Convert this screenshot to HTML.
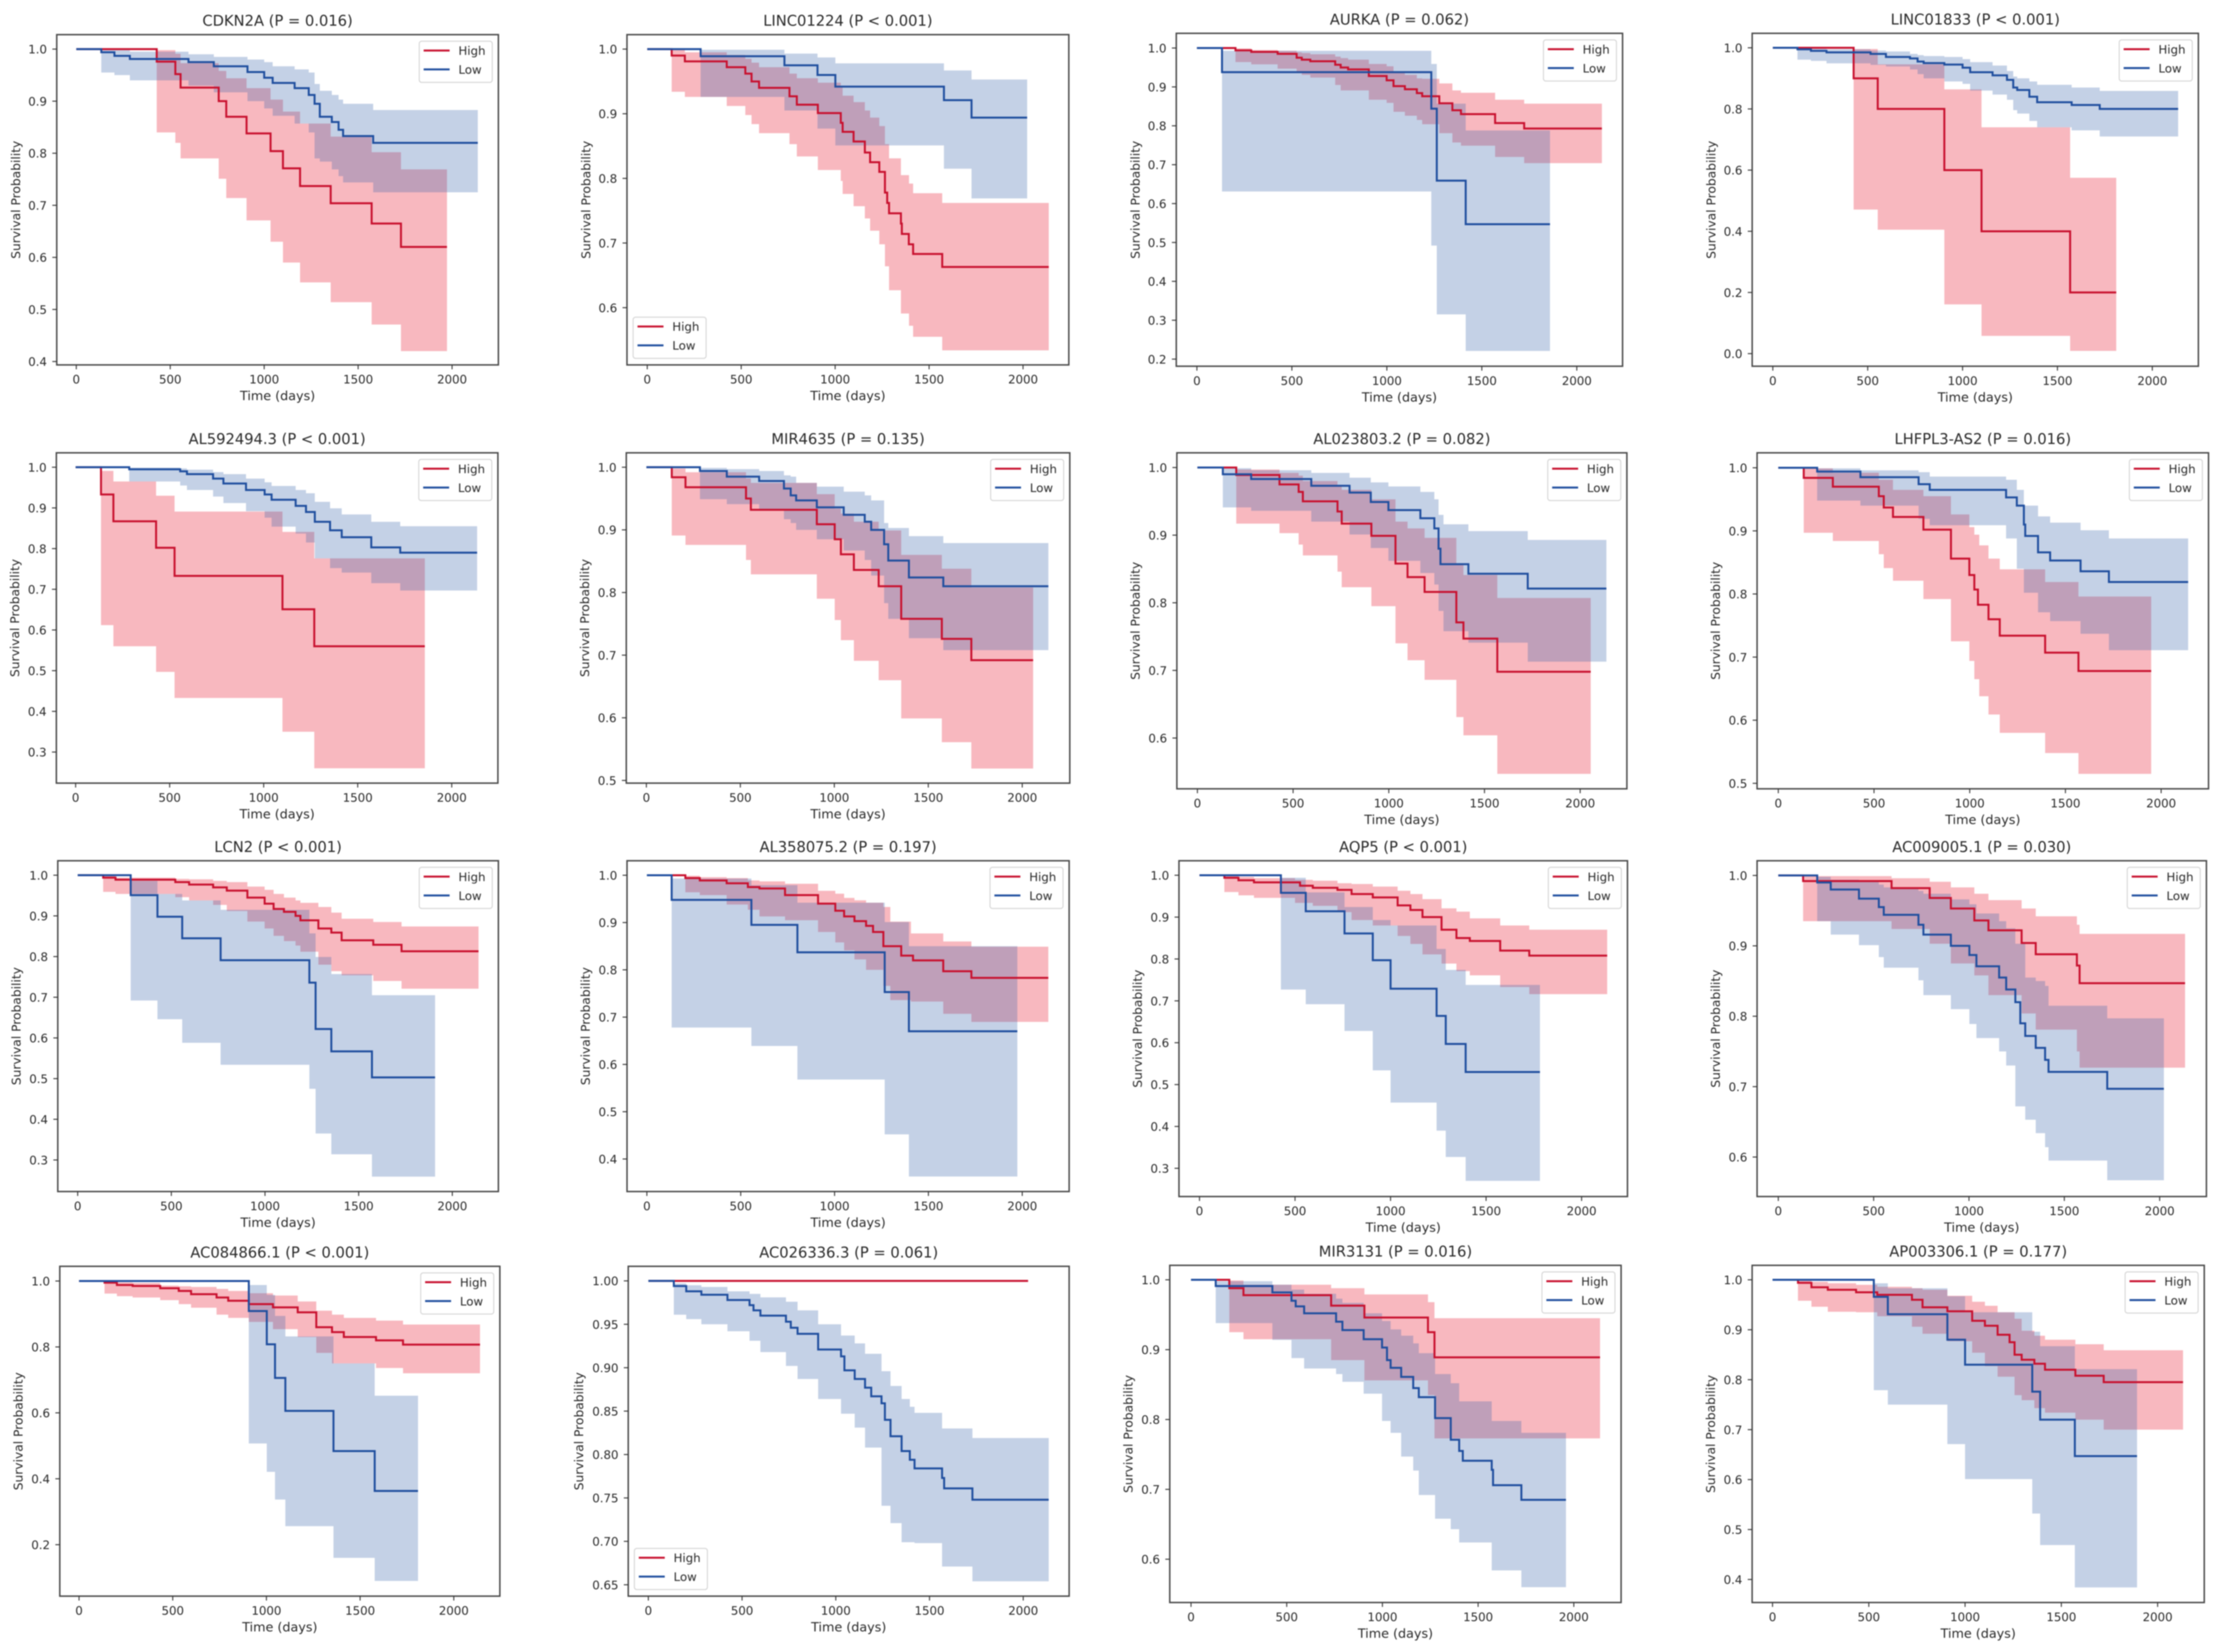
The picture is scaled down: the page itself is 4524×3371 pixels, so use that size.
<!DOCTYPE html>
<html lang="en">
<head>
<meta charset="utf-8">
<title>Kaplan-Meier survival curves</title>
<style>
html,body{margin:0;padding:0;background:#fff;width:4524px;height:3371px;overflow:hidden}
#figure{display:block;filter:blur(1.1px)}
text{font-family:"DejaVu Sans","Liberation Sans",sans-serif;fill:#2a2a2a}
</style>
</head>
<body>
<svg id="figure" xmlns="http://www.w3.org/2000/svg" width="4524" height="3371" viewBox="0 0 4524 3371"></svg>
<script>
const p01Title='CDKN2A (P = 0.016)';
const p01YTicks=[0.4,0.5,0.6,0.7,0.8,0.9,1.0];
const p01HighDays=[0,428,527,555,758,798,906,1034,1100,1191,1354,1572,1728,1973];
const p01HighSurv=[1,.976,.952,.926,.9,.87,.838,.804,.771,.737,.704,.665,.62];
const p01HighCiDays=[428,527,555,758,798,906,1034,1100,1191,1354,1572,1728,1973];
const p01HighUpper=[.998,.991,.973,.958,.944,.925,.903,.88,.857,.832,.802,.769];
const p01HighLower=[.84,.82,.79,.751,.714,.671,.63,.59,.552,.514,.471,.42];
const p01LowDays=[0,133,203,285,597,732,911,1000,1045,1162,1237,1268,1296,1360,1396,1420,1580,2137];
const p01LowSurv=[1,.994,.987,.981,.975,.967,.956,.945,.935,.925,.912,.895,.87,.86,.845,.833,.82];
const p01LowCiDays=[133,203,285,597,732,911,1000,1045,1162,1237,1268,1296,1360,1396,1420,1580,2137];
const p01LowUpper=[.999,.998,.995,.99,.985,.98,.975,.967,.961,.955,.933,.92,.912,.903,.895,.883];
const p01LowLower=[.955,.95,.94,.93,.917,.9,.886,.872,.857,.84,.79,.784,.769,.756,.744,.725];

const p02Title='LINC01224 (P < 0.001)';
const p02YTicks=[0.6,0.7,0.8,0.9,1.0];
const p02HighDays=[0,130,200,423,522,555,595,757,796,908,1030,1040,1098,1158,1186,1235,1265,1277,1287,1350,1355,1392,1415,1570,2137];
const p02HighSurv=[1,.99,.981,.972,.962,.95,.94,.927,.914,.901,.886,.872,.857,.84,.825,.81,.778,.762,.746,.73,.714,.698,.683,.663];
const p02HighCiDays=[130,200,423,522,555,595,757,796,908,1030,1040,1098,1158,1186,1235,1265,1287,1350,1393,1415,1570,2137];
const p02HighUpper=[.999,.995,.991,.985,.979,.972,.962,.955,.948,.942,.928,.918,.905,.894,.881,.853,.831,.805,.792,.777,.762];
const p02HighLower=[.934,.926,.912,.898,.884,.87,.853,.834,.813,.796,.776,.757,.738,.719,.698,.664,.627,.591,.572,.555,.534];
const p02LowDays=[0,284,730,906,1001,1579,1726,2022];
const p02LowSurv=[1,.989,.975,.96,.942,.921,.894];
const p02LowCiDays=[284,730,906,1001,1579,1726,2022];
const p02LowUpper=[.999,.993,.987,.978,.967,.953];
const p02LowLower=[.926,.905,.877,.851,.815,.769];

const p03Title='AURKA (P = 0.062)';
const p03YTicks=[0.2,0.3,0.4,0.5,0.6,0.7,0.8,0.9,1.0];
const p03HighDays=[0,203,286,425,525,552,597,728,757,796,905,999,1035,1095,1158,1186,1276,1345,1390,1570,1723,2132];
const p03HighSurv=[1,.994,.99,.985,.975,.97,.966,.957,.95,.945,.928,.917,.902,.894,.884,.876,.858,.84,.83,.807,.793];
const p03HighCiDays=[203,286,425,525,552,597,728,757,796,905,999,1035,1095,1158,1186,1276,1345,1390,1570,1723,2132];
const p03HighUpper=[.999,.995,.993,.989,.987,.984,.978,.974,.97,.959,.953,.94,.931,.922,.921,.909,.891,.885,.867,.857];
const p03HighLower=[.964,.958,.947,.938,.931,.924,.905,.891,.891,.867,.859,.836,.826,.815,.804,.781,.757,.749,.72,.704];
const p03LowDays=[0,132,1234,1263,1415,1859];
const p03LowSurv=[1,.938,.844,.659,.547];
const p03LowCiDays=[132,1234,1263,1415,1859];
const p03LowUpper=[.993,.959,.857,.788];
const p03LowLower=[.631,.492,.315,.221];

const p04Title='LINC01833 (P < 0.001)';
const p04YTicks=[0.0,0.2,0.4,0.6,0.8,1.0];
const p04HighDays=[0,426,553,904,1100,1567,1810];
const p04HighSurv=[1,.9,.8,.6,.4,.2];
const p04HighCiDays=[426,553,904,1100,1567,1810];
const p04HighUpper=[.996,.946,.864,.74,.575];
const p04HighLower=[.471,.405,.161,.058,.009];
const p04LowDays=[0,130,201,283,515,596,723,763,795,904,1000,1040,1158,1234,1267,1288,1352,1393,1575,1723,2136];
const p04LowSurv=[1,.995,.99,.985,.98,.97,.965,.955,.95,.945,.935,.92,.91,.895,.87,.862,.84,.822,.813,.8];
const p04LowCiDays=[130,201,283,515,596,723,763,795,904,1000,1040,1158,1234,1267,1288,1352,1393,1575,1723,2136];
const p04LowUpper=[.999,.997,.995,.991,.988,.98,.976,.973,.97,.963,.953,.942,.924,.906,.9,.89,.879,.87,.859];
const p04LowLower=[.961,.957,.949,.944,.939,.929,.914,.9,.89,.882,.86,.847,.83,.796,.785,.761,.74,.73,.71];

const p05Title='AL592494.3 (P < 0.001)';
const p05YTicks=[0.3,0.4,0.5,0.6,0.7,0.8,0.9,1.0];
const p05HighDays=[0,135,201,428,526,1100,1269,1857];
const p05HighSurv=[1,.933,.867,.802,.733,.651,.56];
const p05HighCiDays=[135,201,428,526,1100,1269,1857];
const p05HighUpper=[.991,.965,.93,.891,.841,.776];
const p05HighLower=[.612,.56,.497,.433,.35,.26];
const p05LowDays=[0,285,556,592,731,786,906,1005,1042,1170,1225,1272,1353,1415,1572,1726,2135];
const p05LowSurv=[1,.995,.99,.983,.972,.96,.944,.933,.92,.905,.89,.866,.845,.828,.803,.79];
const p05LowCiDays=[285,556,592,731,786,906,1005,1042,1170,1225,1272,1353,1415,1572,1726,2135];
const p05LowUpper=[.999,.997,.994,.988,.983,.972,.963,.954,.944,.936,.915,.899,.884,.866,.855];
const p05LowLower=[.965,.955,.944,.928,.912,.892,.876,.854,.837,.815,.776,.752,.741,.715,.697];

const p06Title='MIR4635 (P = 0.135)';
const p06YTicks=[0.5,0.6,0.7,0.8,0.9,1.0];
const p06HighDays=[0,135,208,530,556,907,1002,1035,1104,1236,1356,1572,1729,2058];
const p06HighSurv=[1,.984,.968,.95,.932,.909,.885,.861,.836,.81,.758,.726,.692];
const p06HighCiDays=[135,208,530,556,907,1002,1035,1104,1236,1356,1572,1729,2058];
const p06HighUpper=[.998,.992,.982,.975,.957,.934,.926,.913,.899,.86,.838,.808];
const p06HighLower=[.891,.876,.852,.829,.79,.756,.724,.691,.66,.599,.561,.519];
const p06LowDays=[0,285,428,600,732,768,797,907,1050,1162,1196,1265,1287,1397,1580,2139];
const p06LowSurv=[1,.994,.985,.978,.966,.955,.947,.936,.924,.913,.9,.877,.851,.824,.81];
const p06LowCiDays=[285,428,600,732,768,797,907,1050,1162,1196,1265,1287,1397,1580,2139];
const p06LowUpper=[.999,.997,.994,.987,.985,.975,.969,.961,.955,.947,.911,.903,.89,.879];
const p06LowLower=[.949,.941,.932,.917,.911,.9,.885,.867,.852,.827,.783,.758,.727,.708];

const p07Title='AL023803.2 (P = 0.082)';
const p07YTicks=[0.6,0.7,0.8,0.9,1.0];
const p07HighDays=[0,203,429,529,551,732,754,909,1035,1098,1187,1353,1390,1567,2055];
const p07HighSurv=[1,.989,.975,.964,.95,.935,.917,.899,.858,.838,.816,.771,.747,.698];
const p07HighCiDays=[203,429,529,551,732,754,909,1035,1098,1187,1353,1390,1567,2055];
const p07HighUpper=[.997,.992,.988,.98,.974,.967,.953,.92,.91,.896,.858,.841,.807];
const p07HighLower=[.917,.903,.886,.87,.846,.823,.795,.74,.715,.686,.631,.604,.547];
const p07LowDays=[0,133,281,595,795,906,998,1165,1238,1260,1270,1416,1726,2137];
const p07LowSurv=[1,.99,.983,.973,.963,.949,.937,.925,.91,.88,.857,.843,.821];
const p07LowCiDays=[133,281,595,795,906,998,1165,1238,1260,1286,1416,1726,2137];
const p07LowUpper=[.999,.996,.992,.985,.978,.972,.964,.953,.93,.916,.906,.893];
const p07LowLower=[.941,.936,.92,.901,.881,.862,.844,.827,.788,.758,.741,.713];

const p08Title='LHFPL3-AS2 (P = 0.016)';
const p08YTicks=[0.5,0.6,0.7,0.8,0.9,1.0];
const p08HighDays=[0,133,285,525,551,599,758,902,998,1024,1043,1098,1157,1394,1568,1948];
const p08HighSurv=[1,.984,.97,.955,.937,.922,.902,.856,.83,.807,.783,.76,.734,.707,.678];
const p08HighCiDays=[133,285,525,551,599,758,902,998,1024,1050,1098,1157,1394,1568,1948];
const p08HighUpper=[.999,.992,.981,.981,.965,.955,.926,.906,.894,.877,.856,.839,.819,.796];
const p08HighLower=[.897,.884,.863,.841,.821,.792,.725,.694,.665,.638,.609,.58,.548,.515];
const p08LowDays=[0,203,429,733,791,1190,1246,1283,1290,1357,1420,1579,1727,2141];
const p08LowSurv=[1,.994,.985,.974,.965,.953,.94,.91,.892,.866,.853,.836,.819];
const p08LowCiDays=[203,429,733,791,1190,1246,1283,1357,1420,1579,1727,2141];
const p08LowUpper=[.999,.996,.993,.986,.981,.965,.94,.923,.913,.901,.888];
const p08LowLower=[.948,.94,.919,.909,.888,.84,.802,.771,.757,.737,.711];

const p09Title='LCN2 (P < 0.001)';
const p09YTicks=[0.3,0.4,0.5,0.6,0.7,0.8,0.9,1.0];
const p09HighDays=[0,136,202,521,595,723,796,906,998,1046,1101,1163,1189,1285,1354,1409,1578,1729,2140];
const p09HighSurv=[1,.994,.989,.983,.977,.97,.962,.945,.93,.917,.91,.9,.889,.869,.859,.84,.829,.813];
const p09HighCiDays=[136,202,521,595,723,796,906,998,1046,1101,1163,1189,1285,1354,1409,1578,1729,2140];
const p09HighUpper=[.999,.994,.991,.99,.986,.983,.972,.964,.954,.945,.938,.932,.922,.908,.893,.885,.874];
const p09HighLower=[.959,.954,.946,.938,.927,.912,.886,.869,.851,.838,.827,.812,.78,.764,.754,.74,.721];
const p09LowDays=[0,283,426,558,763,1237,1270,1354,1571,1908];
const p09LowSurv=[1,.951,.898,.845,.791,.736,.622,.567,.503];
const p09LowCiDays=[283,426,558,763,1237,1270,1354,1571,1908];
const p09LowUpper=[.986,.954,.938,.915,.857,.799,.757,.705];
const p09LowLower=[.692,.646,.588,.534,.475,.365,.314,.259];

const p10Title='AL358075.2 (P = 0.197)';
const p10YTicks=[0.4,0.5,0.6,0.7,0.8,0.9,1.0];
const p10HighDays=[0,205,282,425,538,600,736,912,1004,1051,1106,1168,1205,1260,1355,1418,1579,1729,2139];
const p10HighSurv=[1,.994,.989,.983,.975,.972,.958,.94,.925,.913,.903,.893,.88,.85,.83,.82,.797,.783];
const p10HighCiDays=[205,282,425,538,600,736,912,1004,1051,1106,1168,1260,1297,1407,1579,1729,2139];
const p10HighUpper=[.999,.996,.994,.989,.987,.982,.967,.961,.952,.947,.942,.933,.902,.877,.86,.849];
const p10HighLower=[.964,.958,.938,.927,.913,.905,.88,.858,.841,.822,.8,.766,.736,.733,.707,.69];
const p10LowDays=[0,132,557,802,1267,1396,1974];
const p10LowSurv=[1,.948,.895,.837,.753,.67];
const p10LowCiDays=[132,557,802,1267,1396,1974];
const p10LowUpper=[.993,.979,.942,.901,.85];
const p10LowLower=[.678,.639,.568,.452,.363];

const p11Title='AQP5 (P < 0.001)';
const p11YTicks=[0.3,0.4,0.5,0.6,0.7,0.8,0.9,1.0];
const p11HighDays=[0,130,204,285,526,593,722,796,907,1037,1104,1167,1267,1345,1415,1574,1726,2134];
const p11HighSurv=[1,.994,.988,.983,.975,.97,.965,.955,.947,.928,.917,.9,.87,.85,.843,.82,.808];
const p11HighCiDays=[130,204,285,500,593,722,796,907,1037,1104,1167,1267,1345,1415,1574,1726,2134];
const p11HighUpper=[.999,.996,.993,.989,.987,.981,.979,.973,.963,.955,.943,.921,.913,.897,.88,.87];
const p11HighLower=[.96,.952,.946,.934,.927,.912,.893,.88,.855,.836,.811,.789,.771,.761,.733,.716];
const p11LowDays=[0,426,556,759,907,1000,1241,1289,1393,1782];
const p11LowSurv=[1,.958,.914,.861,.797,.729,.664,.597,.53];
const p11LowCiDays=[426,556,759,907,1000,1241,1289,1393,1782];
const p11LowUpper=[.994,.959,.924,.893,.88,.824,.774,.738];
const p11LowLower=[.727,.692,.628,.534,.457,.39,.327,.27];

const p12Title='AC009005.1 (P = 0.030)';
const p12YTicks=[0.6,0.7,0.8,0.9,1.0];
const p12HighDays=[0,130,594,794,905,1028,1102,1276,1350,1566,1580,2133];
const p12HighSurv=[1,.992,.982,.968,.953,.936,.922,.904,.888,.872,.847];
const p12HighCiDays=[130,594,794,905,1028,1102,1276,1350,1566,1580,2133];
const p12HighUpper=[.999,.996,.991,.983,.974,.965,.953,.942,.93,.917];
const p12HighLower=[.935,.924,.903,.875,.858,.83,.804,.781,.75,.727];
const p12LowDays=[0,204,275,423,527,553,735,761,905,1002,1039,1158,1195,1243,1269,1295,1350,1399,1417,1725,2022];
const p12LowSurv=[1,.99,.98,.967,.955,.944,.93,.916,.9,.887,.871,.855,.838,.82,.79,.772,.755,.738,.721,.697];
const p12LowCiDays=[204,275,423,527,553,735,761,905,1002,1039,1158,1195,1243,1295,1350,1399,1417,1725,2022];
const p12LowUpper=[.998,.994,.991,.987,.983,.978,.974,.966,.959,.946,.935,.925,.903,.855,.85,.843,.815,.797];
const p12LowLower=[.935,.916,.901,.884,.869,.851,.83,.81,.789,.769,.75,.73,.672,.653,.634,.614,.595,.567];

const p13Title='AC084866.1 (P < 0.001)';
const p13YTicks=[0.2,0.4,0.6,0.8,1.0];
const p13HighDays=[0,136,202,286,433,532,598,734,796,906,1035,1167,1266,1350,1413,1585,1729,2140];
const p13HighSurv=[1,.995,.988,.985,.978,.97,.96,.95,.94,.93,.92,.905,.86,.845,.83,.82,.807];
const p13HighCiDays=[136,202,286,433,532,598,734,796,906,1035,1167,1266,1350,1413,1585,1729,2140];
const p13HighUpper=[.998,.996,.994,.986,.984,.982,.976,.97,.963,.956,.938,.91,.898,.888,.88,.868];
const p13HighLower=[.962,.954,.95,.942,.93,.919,.898,.888,.876,.854,.83,.782,.75,.75,.736,.72];
const p13LowDays=[0,906,1002,1046,1101,1358,1578,1809];
const p13LowSurv=[1,.909,.808,.706,.606,.484,.363];
const p13LowCiDays=[906,1002,1046,1101,1358,1578,1809];
const p13LowUpper=[.988,.958,.894,.832,.75,.652];
const p13LowLower=[.507,.421,.337,.256,.16,.09];

const p14Title='AC026336.3 (P = 0.061)';
const p14YTicks=[0.65,0.70,0.75,0.80,0.85,0.90,0.95,1.00];
const p14HighDays=[0,2026];
const p14HighSurv=[1];
const p14HighCiDays=[];
const p14HighUpper=[];
const p14HighLower=[];
const p14LowDays=[0,136,202,283,422,540,561,598,734,760,796,906,1028,1046,1101,1156,1189,1244,1262,1292,1351,1395,1420,1567,1578,1729,2136];
const p14LowSurv=[1,.994,.988,.984,.978,.972,.966,.96,.953,.946,.939,.921,.913,.897,.887,.877,.867,.859,.84,.821,.804,.794,.784,.773,.761,.748];
const p14LowCiDays=[136,202,283,422,540,598,734,796,906,1028,1101,1156,1244,1292,1351,1395,1420,1567,1729,2136];
const p14LowUpper=[.997,.995,.993,.988,.985,.981,.976,.966,.95,.937,.928,.916,.896,.879,.864,.855,.848,.83,.819];
const p14LowLower=[.961,.956,.95,.942,.931,.918,.902,.887,.864,.847,.831,.808,.741,.721,.699,.699,.698,.671,.654];

const p15Title='MIR3131 (P = 0.016)';
const p15YTicks=[0.6,0.7,0.8,0.9,1.0];
const p15HighDays=[0,200,274,732,906,1238,1272,2137];
const p15HighSurv=[1,.988,.978,.963,.946,.925,.889];
const p15HighCiDays=[200,274,732,906,1238,1272,2137];
const p15HighUpper=[.999,.993,.988,.979,.968,.945];
const p15HighLower=[.925,.915,.885,.856,.835,.773];
const p15LowDays=[0,129,425,525,547,591,758,791,902,998,1024,1043,1098,1161,1190,1275,1357,1401,1420,1571,1578,1726,1959];
const p15LowSurv=[1,.991,.982,.97,.962,.952,.94,.928,.915,.903,.885,.874,.861,.845,.832,.802,.771,.755,.741,.728,.706,.685];
const p15LowCiDays=[129,425,525,591,758,791,902,998,1043,1098,1161,1190,1275,1357,1401,1571,1726,1959];
const p15LowUpper=[.998,.993,.986,.98,.973,.967,.952,.941,.929,.92,.909,.895,.865,.852,.826,.798,.781];
const p15LowLower=[.938,.914,.888,.873,.865,.854,.837,.798,.781,.747,.727,.692,.658,.643,.624,.584,.56];

const p16Title='AP003306.1 (P = 0.177)';
const p16YTicks=[0.4,0.5,0.6,0.7,0.8,0.9,1.0];
const p16HighDays=[0,132,202,287,434,544,724,779,908,1037,1103,1169,1231,1257,1294,1360,1415,1573,1720,2132];
const p16HighSurv=[1,.994,.985,.98,.975,.97,.96,.945,.937,.918,.908,.89,.875,.85,.84,.832,.82,.808,.795];
const p16HighCiDays=[132,202,287,434,544,724,779,908,1037,1103,1169,1257,1294,1360,1415,1573,1720,2132];
const p16HighUpper=[.998,.996,.993,.99,.986,.983,.98,.968,.956,.948,.935,.922,.898,.888,.88,.871,.859];
const p16HighLower=[.958,.946,.936,.935,.927,.906,.892,.877,.854,.827,.806,.769,.759,.743,.734,.72,.7];
const p16LowDays=[0,526,599,908,1000,1349,1390,1570,1893];
const p16LowSurv=[1,.966,.931,.88,.83,.776,.72,.647];
const p16LowCiDays=[526,599,908,1000,1349,1390,1570,1893];
const p16LowUpper=[.993,.983,.967,.935,.896,.867,.821];
const p16LowLower=[.779,.75,.671,.601,.532,.469,.384];

const xTicks=[0,500,1000,1500,2000];
const seriesNames=['High','Low'];

const panels=[
 [p01Title,p01YTicks,p01HighDays,p01HighSurv,p01HighCiDays,p01HighUpper,p01HighLower,p01LowDays,p01LowSurv,p01LowCiDays,p01LowUpper,p01LowLower],
 [p02Title,p02YTicks,p02HighDays,p02HighSurv,p02HighCiDays,p02HighUpper,p02HighLower,p02LowDays,p02LowSurv,p02LowCiDays,p02LowUpper,p02LowLower],
 [p03Title,p03YTicks,p03HighDays,p03HighSurv,p03HighCiDays,p03HighUpper,p03HighLower,p03LowDays,p03LowSurv,p03LowCiDays,p03LowUpper,p03LowLower],
 [p04Title,p04YTicks,p04HighDays,p04HighSurv,p04HighCiDays,p04HighUpper,p04HighLower,p04LowDays,p04LowSurv,p04LowCiDays,p04LowUpper,p04LowLower],
 [p05Title,p05YTicks,p05HighDays,p05HighSurv,p05HighCiDays,p05HighUpper,p05HighLower,p05LowDays,p05LowSurv,p05LowCiDays,p05LowUpper,p05LowLower],
 [p06Title,p06YTicks,p06HighDays,p06HighSurv,p06HighCiDays,p06HighUpper,p06HighLower,p06LowDays,p06LowSurv,p06LowCiDays,p06LowUpper,p06LowLower],
 [p07Title,p07YTicks,p07HighDays,p07HighSurv,p07HighCiDays,p07HighUpper,p07HighLower,p07LowDays,p07LowSurv,p07LowCiDays,p07LowUpper,p07LowLower],
 [p08Title,p08YTicks,p08HighDays,p08HighSurv,p08HighCiDays,p08HighUpper,p08HighLower,p08LowDays,p08LowSurv,p08LowCiDays,p08LowUpper,p08LowLower],
 [p09Title,p09YTicks,p09HighDays,p09HighSurv,p09HighCiDays,p09HighUpper,p09HighLower,p09LowDays,p09LowSurv,p09LowCiDays,p09LowUpper,p09LowLower],
 [p10Title,p10YTicks,p10HighDays,p10HighSurv,p10HighCiDays,p10HighUpper,p10HighLower,p10LowDays,p10LowSurv,p10LowCiDays,p10LowUpper,p10LowLower],
 [p11Title,p11YTicks,p11HighDays,p11HighSurv,p11HighCiDays,p11HighUpper,p11HighLower,p11LowDays,p11LowSurv,p11LowCiDays,p11LowUpper,p11LowLower],
 [p12Title,p12YTicks,p12HighDays,p12HighSurv,p12HighCiDays,p12HighUpper,p12HighLower,p12LowDays,p12LowSurv,p12LowCiDays,p12LowUpper,p12LowLower],
 [p13Title,p13YTicks,p13HighDays,p13HighSurv,p13HighCiDays,p13HighUpper,p13HighLower,p13LowDays,p13LowSurv,p13LowCiDays,p13LowUpper,p13LowLower],
 [p14Title,p14YTicks,p14HighDays,p14HighSurv,p14HighCiDays,p14HighUpper,p14HighLower,p14LowDays,p14LowSurv,p14LowCiDays,p14LowUpper,p14LowLower],
 [p15Title,p15YTicks,p15HighDays,p15HighSurv,p15HighCiDays,p15HighUpper,p15HighLower,p15LowDays,p15LowSurv,p15LowCiDays,p15LowUpper,p15LowLower],
 [p16Title,p16YTicks,p16HighDays,p16HighSurv,p16HighCiDays,p16HighUpper,p16HighLower,p16LowDays,p16LowSurv,p16LowCiDays,p16LowUpper,p16LowLower]
];

/* Panel frames: left,right,top,bottom, x pixel of day 0, x pixel of day 2000,
   y pixel of survival 1, a second reference survival and its y pixel, ylabel offset, legend corner */
const frames=[
 [115.8,1017,70.7,744.6,155.7,922.5,100.2,0.4,737.7,84,'tr'],
 [1279.4,2181,70.7,744.6,1320.8,2087.6,100.2,0.6,627.8,84,'bl'],
 [2400.3,3311,68,747.3,2442.4,3217.6,98,0.2,732.8,84,'tr'],
 [3575.5,4486,68,747.3,3617.6,4392,97.5,0,721.6,84,'tr'],
 [115,1016,924,1598,154.3,921.8,953.4,0.3,1534.6,85,'tr'],
 [1278,2183,924,1598,1319,2086,953.4,0.5,1592.5,85,'tr'],
 [2401.5,3319.8,924,1609.6,2443.4,3224.5,954,0.6,1506,85,'tr'],
 [3585.5,4506.7,924,1609.6,3628.8,4410,954.5,0.5,1598.4,85,'tr'],
 [117.9,1017,1756.4,2431.4,158.5,923,1785.9,0.3,2367,85,'tr'],
 [1279.5,2181.7,1756.4,2431.4,1320,2086,1786,0.4,2365,85,'tr'],
 [2405.8,3321,1756.4,2441.6,2447.7,3227.4,1786,0.3,2384,85,'tr'],
 [3585.5,4502.4,1756.4,2441.6,3628.8,4407,1786.4,0.6,2361,85,'tr'],
 [122,1020,2584,3257,161.3,926,2614,0.2,3152,85,'tr'],
 [1282,2181.7,2584,3257,1323,2088,2613.7,0.65,3233.8,101,'bl'],
 [2387,3308,2582,3270,2430.4,3211.5,2611.5,0.6,3181.7,85,'tr'],
 [3575.4,4498,2582,3270,3617,4402.8,2611.5,0.4,3223,85,'tr']
];

const NS='http://www.w3.org/2000/svg';
const root=document.getElementById('figure');
const HIGH_LINE='#c8102e', LOW_LINE='#1f4e9e', HIGH_FILL='#e8132c', LOW_FILL='#3c67ad';

function make(tag,parent,attrs){
  const el=document.createElementNS(NS,tag);
  for(const k in attrs){el.setAttribute(k,attrs[k]);}
  parent.appendChild(el);
  return el;
}
function label(parent,str,x,y,size,anchor,rotated){
  const t=rotated
    ? `translate(${x} ${y}) rotate(-90)`
    : `translate(${x} ${y})`;
  const el=make('text',parent,{transform:t,'font-size':size,'text-anchor':anchor});
  el.textContent=str;
  return el;
}
function stepLine(days,vals,xs,ys){
  let d='M'+xs(days[0]).toFixed(1)+' '+ys(vals[0]).toFixed(1);
  for(let i=0;i<vals.length;i++){
    d+=' H'+xs(days[i+1]).toFixed(1);
    if(i+1<vals.length){d+=' V'+ys(vals[i+1]).toFixed(1);}
  }
  return d;
}
function stepBand(days,upper,lower,xs,ys){
  if(!days.length){return '';}
  let d='M'+xs(days[0]).toFixed(1)+' '+ys(upper[0]).toFixed(1);
  for(let i=0;i<upper.length;i++){
    d+=' H'+xs(days[i+1]).toFixed(1);
    if(i+1<upper.length){d+=' V'+ys(upper[i+1]).toFixed(1);}
  }
  d+=' V'+ys(lower[lower.length-1]).toFixed(1);
  for(let i=lower.length-1;i>=0;i--){
    d+=' H'+xs(days[i]).toFixed(1);
    if(i>0){d+=' V'+ys(lower[i-1]).toFixed(1);}
  }
  return d+' Z';
}

panels.forEach(function(p,idx){
  const f=frames[idx];
  const L=f[0],R=f[1],T=f[2],B=f[3];
  const xs=function(day){return f[4]+day*(f[5]-f[4])/2000;};
  const ys=function(v){return f[6]+(1-v)*(f[8]-f[6])/(1-f[7]);};

  const g=make('g',root,{});
  
  

  const bg=make('rect',g,{x:L,y:T,width:R-L,height:B-T,fill:'#fff'});
  
  

  const highBand=make('path',g,{d:stepBand(p[4],p[5],p[6],xs,ys),fill:HIGH_FILL,'fill-opacity':0.3});
  
  

  const lowBand=make('path',g,{d:stepBand(p[9],p[10],p[11],xs,ys),fill:LOW_FILL,'fill-opacity':0.3});
  
  

  const highLine=make('path',g,{d:stepLine(p[2],p[3],xs,ys),fill:'none',stroke:HIGH_LINE,'stroke-width':4});
  
  

  const lowLine=make('path',g,{d:stepLine(p[7],p[8],xs,ys),fill:'none',stroke:LOW_LINE,'stroke-width':4});
  
  

  const frame=make('rect',g,{x:L,y:T,width:R-L,height:B-T,fill:'none',stroke:'#4a4a4a','stroke-width':3});
  
  

  xTicks.forEach(function(tv){
    const x=xs(tv);
    const tick=make('line',g,{x1:x,x2:x,y1:B,y2:B+9,stroke:'#333','stroke-width':2});
    
    
    const tl=label(g,String(tv),x,B+38,24,'middle',false);
    
    
  });
  const decimals=idx===13?2:1;
  p[1].forEach(function(tv){
    const y=ys(tv);
    const tick=make('line',g,{x1:L-9,x2:L,y1:y,y2:y,stroke:'#333','stroke-width':2});
    
    
    const tl=label(g,tv.toFixed(decimals),L-20,y+9,24,'end',false);
    
    
  });

  const title=label(g,p[0],(L+R)/2,T-18,30,'middle',false);
  
  

  const xTitle=label(g,'Time (days)',(L+R)/2,B+72,26,'middle',false);
  
  

  const yTitle=label(g,'Survival Probability',L-f[9]+9,(T+B)/2,25,'middle',true);
  
  

  const lw=149,lh=84;
  const lx=f[10]==='tr'?R-12.5-lw:L+12.5;
  const ly=f[10]==='tr'?T+13.4:B-13.4-lh;
  const legend=make('g',g,{});
  
  
  const box=make('rect',legend,{x:lx,y:ly,width:lw,height:lh,rx:5,fill:'#fff','fill-opacity':0.8,stroke:'#d4d4d4','stroke-width':2});
  
  
  seriesNames.forEach(function(name,i){
    const rowY=ly+19+i*38.5;
    const swatch=make('line',legend,{x1:lx+9,x2:lx+62,y1:rowY,y2:rowY,stroke:i===0?HIGH_LINE:LOW_LINE,'stroke-width':4});
    
    
    const txt=label(legend,name,lx+80,rowY+9,24,'start',false);
    
    
  });
});
</script>
</body>
</html>
